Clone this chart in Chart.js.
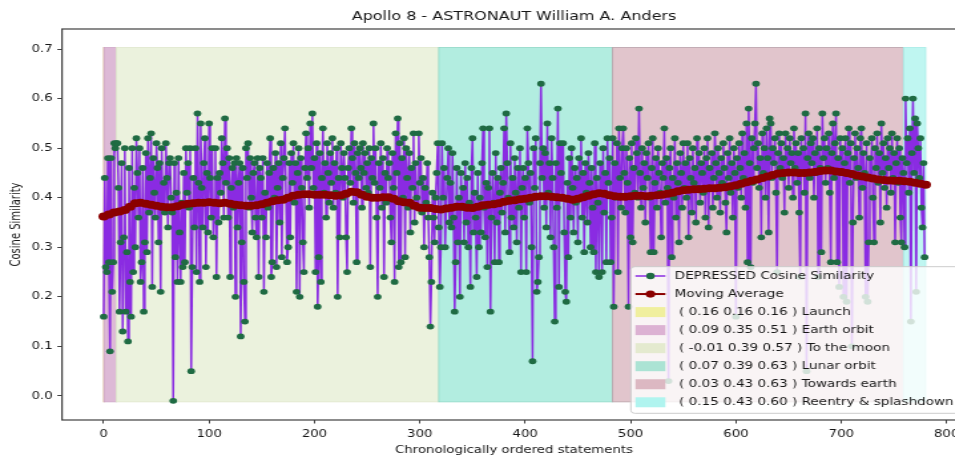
<!DOCTYPE html>
<html>
<head>
<meta charset="utf-8">
<script src="https://cdn.jsdelivr.net/npm/chart.js@4.4.0/dist/chart.umd.min.js"></script>
<style>
html, body { margin: 0; padding: 0; overflow: hidden; background: #fff; }
/* the reference figure is stretched sideways, so the chart is drawn narrow and widened */
#wrap { width: 773px; height: 457px; transform: scaleX(1.33); transform-origin: 0 0; }
</style>
</head>
<body>
<div id="wrap"><canvas id="chart" width="773" height="457"></canvas></div>
<script>
// cosine similarity per statement, split by mission phase
const launch = [0.16];
const earthOrbit = [0.44, 0.26, 0.25, 0.48, 0.27, 0.09, 0.48, 0.21, 0.27, 0.51, 0.50, 0.51];
const toMoon = [
  0.51, 0.42, 0.17, 0.31, 0.47, 0.13, 0.32, 0.50, 0.17, 0.29,
  0.11, 0.46, 0.23, 0.16, 0.50, 0.25, 0.42, 0.30, 0.52, 0.45,
  0.36, 0.50, 0.23, 0.27, 0.46, 0.17, 0.31, 0.49, 0.29, 0.52,
  0.37, 0.44, 0.53, 0.22, 0.48, 0.41, 0.36, 0.51, 0.46, 0.31,
  0.47, 0.21, 0.50, 0.38, 0.43, 0.37, 0.51, 0.44, 0.34, 0.47,
  0.48, 0.40, 0.37, -0.01, 0.47, 0.28, 0.41, 0.23, 0.48, 0.33,
  0.23, 0.39, 0.26, 0.45, 0.27, 0.50, 0.41, 0.47, 0.38, 0.50,
  0.05, 0.26, 0.44, 0.34, 0.50, 0.25, 0.57, 0.43, 0.23, 0.55,
  0.42, 0.34, 0.47, 0.52, 0.26, 0.45, 0.33, 0.55, 0.44, 0.36,
  0.50, 0.32, 0.39, 0.50, 0.24, 0.44, 0.35, 0.45, 0.41, 0.52,
  0.47, 0.36, 0.56, 0.43, 0.50, 0.36, 0.48, 0.24, 0.42, 0.46,
  0.38, 0.47, 0.20, 0.48, 0.34, 0.43, 0.47, 0.12, 0.31, 0.46,
  0.23, 0.15, 0.50, 0.44, 0.51, 0.38, 0.48, 0.40, 0.33, 0.45,
  0.47, 0.36, 0.32, 0.48, 0.24, 0.46, 0.44, 0.36, 0.48, 0.21,
  0.41, 0.32, 0.47, 0.38, 0.45, 0.52, 0.24, 0.27, 0.46, 0.40,
  0.49, 0.26, 0.42, 0.47, 0.35, 0.51, 0.28, 0.44, 0.48, 0.54,
  0.40, 0.27, 0.30, 0.47, 0.32, 0.49, 0.43, 0.51, 0.39, 0.47,
  0.21, 0.45, 0.50, 0.20, 0.48, 0.42, 0.31, 0.25, 0.46, 0.53,
  0.44, 0.50, 0.38, 0.55, 0.46, 0.57, 0.42, 0.48, 0.25, 0.51,
  0.18, 0.28, 0.49, 0.23, 0.44, 0.54, 0.41, 0.47, 0.36, 0.51,
  0.45, 0.39, 0.49, 0.43, 0.52, 0.38, 0.47, 0.41, 0.50, 0.20,
  0.44, 0.32, 0.51, 0.46, 0.40, 0.49, 0.44, 0.32, 0.25, 0.46,
  0.50, 0.43, 0.54, 0.48, 0.39, 0.51, 0.45, 0.27, 0.49, 0.44,
  0.50, 0.46, 0.38, 0.51, 0.45, 0.49, 0.42, 0.47, 0.41, 0.50,
  0.26, 0.48, 0.44, 0.55, 0.43, 0.50, 0.36, 0.20, 0.47, 0.42,
  0.51, 0.38, 0.48, 0.24, 0.45, 0.39, 0.50, 0.44, 0.47, 0.36,
  0.31, 0.49, 0.42, 0.23, 0.53, 0.45, 0.56, 0.26, 0.51, 0.27,
  0.48, 0.40, 0.52, 0.28, 0.50, 0.44, 0.38, 0.49, 0.33, 0.46,
  0.42, 0.53, 0.35, 0.47, 0.40, 0.38, 0.53, 0.43, 0.48, 0.37,
  0.44, 0.30, 0.42, 0.39, 0.47, 0.36, 0.28, 0.14, 0.23, 0.41,
  0.36, 0.31, 0.40, 0.45, 0.51, 0.34
];
const lunarOrbit = [
  0.22, 0.30, 0.51, 0.40, 0.46, 0.30, 0.38, 0.44, 0.50, 0.35,
  0.43, 0.34, 0.49, 0.36, 0.17, 0.27, 0.46, 0.31, 0.40, 0.20,
  0.45, 0.38, 0.42, 0.31, 0.47, 0.35, 0.44, 0.30, 0.39, 0.22,
  0.46, 0.52, 0.33, 0.41, 0.36, 0.24, 0.45, 0.30, 0.40, 0.33,
  0.47, 0.54, 0.38, 0.32, 0.43, 0.26, 0.42, 0.54, 0.17, 0.36,
  0.45, 0.39, 0.27, 0.49, 0.35, 0.44, 0.27, 0.41, 0.46, 0.37,
  0.43, 0.54, 0.33, 0.57, 0.47, 0.40, 0.29, 0.51, 0.36, 0.44,
  0.34, 0.48, 0.41, 0.31, 0.46, 0.38, 0.50, 0.25, 0.42, 0.46,
  0.36, 0.44, 0.25, 0.54, 0.47, 0.39, 0.45, 0.30, 0.07, 0.50,
  0.42, 0.52, 0.21, 0.23, 0.28, 0.47, 0.63, 0.44, 0.50, 0.38,
  0.49, 0.34, 0.55, 0.41, 0.47, 0.32, 0.52, 0.44, 0.30, 0.15,
  0.47, 0.38, 0.58, 0.22, 0.51, 0.45, 0.40, 0.51, 0.33, 0.21,
  0.19, 0.43, 0.28, 0.48, 0.36, 0.50, 0.42, 0.33, 0.46, 0.39,
  0.44, 0.31, 0.48, 0.40, 0.52, 0.36, 0.45, 0.29, 0.47, 0.41,
  0.35, 0.49, 0.43, 0.30, 0.46, 0.38, 0.29, 0.51, 0.25, 0.44,
  0.39, 0.24, 0.47, 0.41, 0.25, 0.50, 0.37, 0.45, 0.27, 0.52,
  0.43, 0.48, 0.27, 0.36
];
const towardsEarth = [
  0.52, 0.18, 0.47, 0.40, 0.51, 0.25, 0.54, 0.44, 0.38, 0.50,
  0.54, 0.45, 0.37, 0.50, 0.43, 0.18, 0.48, 0.32, 0.51, 0.31,
  0.46, 0.41, 0.52, 0.49, 0.40, 0.58, 0.45, 0.38, 0.50, 0.42,
  0.47, 0.35, 0.49, 0.44, 0.51, 0.40, 0.29, 0.46, 0.52, 0.29,
  0.43, 0.48, 0.38, 0.50, 0.45, 0.41, 0.32, 0.47, 0.44, 0.54,
  0.39, 0.48, 0.42, 0.03, 0.46, 0.50, 0.28, 0.44, 0.40, 0.52,
  0.36, 0.47, 0.43, 0.31, 0.49, 0.45, 0.38, 0.51, 0.42, 0.47,
  0.40, 0.51, 0.32, 0.48, 0.44, 0.37, 0.50, 0.43, 0.46, 0.35,
  0.52, 0.42, 0.49, 0.39, 0.47, 0.45, 0.41, 0.50, 0.36, 0.48,
  0.52, 0.34, 0.46, 0.42, 0.49, 0.38, 0.44, 0.53, 0.47, 0.40,
  0.50, 0.45, 0.37, 0.48, 0.43, 0.51, 0.46, 0.39, 0.33, 0.49,
  0.44, 0.52, 0.41, 0.47, 0.36, 0.50, 0.45, 0.16, 0.48, 0.42,
  0.51, 0.46, 0.40, 0.53, 0.44, 0.49, 0.38, 0.55, 0.27, 0.58,
  0.47, 0.26, 0.52, 0.43, 0.50, 0.55, 0.63, 0.46, 0.51, 0.42,
  0.48, 0.32, 0.53, 0.45, 0.50, 0.40, 0.54, 0.48, 0.33, 0.56,
  0.55, 0.44, 0.50, 0.47, 0.52, 0.41, 0.25, 0.49, 0.53, 0.46,
  0.51, 0.44, 0.48, 0.37, 0.53, 0.45, 0.50, 0.42, 0.52, 0.47,
  0.49, 0.40, 0.54, 0.46, 0.51, 0.43, 0.49, 0.37, 0.24, 0.52,
  0.45, 0.50, 0.41, 0.57, 0.05, 0.48, 0.53, 0.44, 0.51, 0.47,
  0.52, 0.40, 0.49, 0.45, 0.54, 0.24, 0.50, 0.46, 0.29, 0.57,
  0.48, 0.52, 0.43, 0.50, 0.46, 0.53, 0.41, 0.27, 0.49, 0.55,
  0.44, 0.51, 0.57, 0.27, 0.48, 0.22, 0.52, 0.45, 0.50, 0.20,
  0.47, 0.52, 0.19, 0.49, 0.54, 0.43, 0.51, 0.10, 0.35, 0.48,
  0.53, 0.44, 0.50, 0.46, 0.36, 0.52, 0.54, 0.42, 0.49, 0.45,
  0.20, 0.51, 0.19, 0.31, 0.48, 0.44, 0.52, 0.40, 0.31, 0.50,
  0.46, 0.53, 0.43, 0.49, 0.35, 0.55, 0.45, 0.51, 0.42, 0.48,
  0.38, 0.52, 0.46, 0.50, 0.41, 0.53, 0.44, 0.49, 0.31, 0.47,
  0.52, 0.43, 0.50, 0.36, 0.31, 0.48, 0.45
];
const reentry = [
  0.30, 0.60, 0.47, 0.52, 0.41, 0.54, 0.15, 0.49, 0.60, 0.45,
  0.56, 0.21, 0.55, 0.50, 0.44, 0.52, 0.38, 0.34, 0.47, 0.28
];

// moving average, read every 5th statement
const maStep = 5;
const movingAverage = [
  0.362, 0.366, 0.370, 0.372, 0.375, 0.382, 0.389, 0.390, 0.388, 0.386,
  0.384, 0.382, 0.381, 0.381, 0.383, 0.386, 0.388, 0.389, 0.390, 0.390,
  0.391, 0.390, 0.389, 0.390, 0.388, 0.386, 0.385, 0.384, 0.384, 0.385,
  0.387, 0.390, 0.393, 0.395, 0.396, 0.400, 0.404, 0.406, 0.407, 0.407,
  0.406, 0.406, 0.406, 0.405, 0.404, 0.405, 0.408, 0.412, 0.411, 0.406,
  0.402, 0.400, 0.400, 0.401, 0.401, 0.398, 0.393, 0.391, 0.390, 0.384,
  0.380, 0.379, 0.379, 0.377, 0.376, 0.378, 0.380, 0.382, 0.382, 0.380,
  0.379, 0.382, 0.385, 0.386, 0.387, 0.389, 0.392, 0.394, 0.395, 0.397,
  0.398, 0.400, 0.402, 0.403, 0.403, 0.402, 0.401, 0.400, 0.398, 0.396,
  0.398, 0.401, 0.404, 0.407, 0.409, 0.408, 0.405, 0.403, 0.402, 0.402,
  0.403, 0.404, 0.404, 0.403, 0.404, 0.405, 0.406, 0.408, 0.410, 0.413,
  0.415, 0.416, 0.417, 0.417, 0.418, 0.419, 0.419, 0.420, 0.421, 0.423,
  0.425, 0.428, 0.431, 0.434, 0.437, 0.440, 0.443, 0.446, 0.449, 0.450,
  0.451, 0.451, 0.450, 0.450, 0.451, 0.452, 0.454, 0.455, 0.455, 0.453,
  0.452, 0.450, 0.448, 0.445, 0.443, 0.441, 0.439, 0.437, 0.436, 0.435,
  0.434, 0.434, 0.433, 0.432, 0.430, 0.428, 0.426
];

// mission phases: shaded statement ranges and their (min mean max)
const phaseNames = ['Launch', 'Earth orbit', 'To the moon', 'Lunar orbit', 'Towards earth', 'Reentry & splashdown'];
const phaseStats = ['( 0.16 0.16 0.16 )', '( 0.09 0.35 0.51 )', '( -0.01 0.39 0.57 )',
                    '( 0.07 0.39 0.63 )', '( 0.03 0.43 0.63 )', '( 0.15 0.43 0.60 )'];
const phaseStart = [0, 0.4, 12, 318, 483, 759];
const phaseEnd = [0.4, 12, 318, 483, 759, 780];
const spanLow = -0.012;
const spanHigh = 0.703;

const xTicks = [0, 100, 200, 300, 400, 500, 600, 700, 800];
const yTicks = [0.0, 0.1, 0.2, 0.3, 0.4, 0.5, 0.6, 0.7];

const titleText = 'Apollo 8 - ASTRONAUT William A. Anders';

const phaseColors = ['#e6dc96', '#ddb9d6', '#ebf2dd', '#b2ede0', '#e1c5cc', '#bff6f1'];
const phaseEdges = ['#d9b98a', '#cfa6c8', '#dfe6cc', '#8fd8c6', '#b9a0a8', '#a6ece6'];
const swatchColors = ['#f0ef9e', '#dcb2d3', '#e4eacf', '#abe3d4', '#dcb8c2', '#b0f4ef'];

const lineColor = '#8a2be2';
const markerColor = '#1f6b43';
const maColor = '#8b0000';
const textColor = '#161616';

Chart.defaults.font.family = '"DejaVu Sans", sans-serif';
Chart.defaults.color = textColor;

const allValues = [...launch, ...earthOrbit, ...toMoon, ...lunarOrbit, ...towardsEarth, ...reentry];
const cosPoints = allValues.map((v, i) => ({ x: i, y: v }));
const maPoints = movingAverage.map((v, i) => ({ x: i * maStep, y: v }));

const phaseSpans = {
  id: 'phaseSpans',
  beforeDatasetsDraw(chart) {
    const { ctx, scales: { x, y } } = chart;
    const top = y.getPixelForValue(spanHigh);
    const bottom = y.getPixelForValue(spanLow);
    ctx.save();
    for (let i = 0; i < phaseNames.length; i++) {
      const x0 = x.getPixelForValue(phaseStart[i]);
      const x1 = x.getPixelForValue(phaseEnd[i]);
      ctx.fillStyle = phaseColors[i];
      ctx.fillRect(x0, top, x1 - x0, bottom - top);
      ctx.strokeStyle = phaseEdges[i];
      ctx.lineWidth = 0.8;
      ctx.strokeRect(x0, top, x1 - x0, bottom - top);
    }
    ctx.restore();
  }
};

const frameAndLegend = {
  id: 'frameAndLegend',
  afterDraw(chart) {
    const { ctx, chartArea: a } = chart;
    ctx.save();
    ctx.strokeStyle = '#404040';
    ctx.lineWidth = 1.2;
    ctx.strokeRect(a.left, a.top, a.right - a.left, a.bottom - a.top);

    // title centred over the axes, like matplotlib's set_title
    ctx.fillStyle = textColor;
    ctx.font = '12px "DejaVu Sans"';
    ctx.textAlign = 'center';
    ctx.textBaseline = 'middle';
    ctx.fillText(titleText, (a.left + a.right) / 2, 17);

    // legend box in the lower right corner of the axes
    const w = 247, h = 146.6;
    const bx = a.right - 5 - w, by = a.bottom - 6.7 - h;
    ctx.beginPath();
    ctx.roundRect(bx, by, w, h, 3);
    ctx.fillStyle = 'rgba(255,255,255,0.8)';
    ctx.fill();
    ctx.strokeStyle = '#cccccc';
    ctx.lineWidth = 1;
    ctx.stroke();

    const hx0 = bx + 3.5, hx1 = bx + 26, hxm = (hx0 + hx1) / 2;
    const tx = bx + 33;
    const rowY = k => by + 9.3 + k * 18.04;
    ctx.font = '10.2px "DejaVu Sans"';
    ctx.textBaseline = 'middle';
    ctx.textAlign = 'left';

    // line handles
    const handles = [
      { label: 'DEPRESSED Cosine Similarity', color: lineColor, width: 1.5, dot: markerColor, r: 3.2 },
      { label: 'Moving Average', color: maColor, width: 2, dot: maColor, r: 3.6 }
    ];
    handles.forEach((hd, k) => {
      const yy = rowY(k);
      ctx.strokeStyle = hd.color;
      ctx.lineWidth = hd.width;
      ctx.beginPath();
      ctx.moveTo(hx0, yy);
      ctx.lineTo(hx1, yy);
      ctx.stroke();
      ctx.fillStyle = hd.dot;
      ctx.beginPath();
      ctx.arc(hxm, yy, hd.r, 0, Math.PI * 2);
      ctx.fill();
      ctx.fillStyle = textColor;
      ctx.fillText(hd.label, tx, yy + 0.5);
    });

    // patch handles
    for (let i = 0; i < phaseNames.length; i++) {
      const yy = rowY(i + 2);
      ctx.fillStyle = swatchColors[i];
      ctx.fillRect(hx0, yy - 5, hx1 - hx0, 10);
      ctx.fillStyle = textColor;
      ctx.fillText(' ' + phaseStats[i] + ' ' + phaseNames[i], tx, yy + 0.5);
    }
    ctx.restore();
  }
};

new Chart(document.getElementById('chart'), {
  type: 'line',
  data: {
    datasets: [
      {
        label: 'Moving Average',
        data: maPoints,
        borderColor: maColor,
        backgroundColor: maColor,
        borderWidth: 2.5,
        pointRadius: 4,
        pointBorderWidth: 0,
        pointBackgroundColor: maColor,
        tension: 0
      },
      {
        label: 'DEPRESSED Cosine Similarity',
        data: cosPoints,
        borderColor: lineColor,
        backgroundColor: markerColor,
        borderWidth: 1.5,
        pointRadius: 2.9,
        pointBorderWidth: 0,
        pointBackgroundColor: markerColor,
        tension: 0
      }
    ]
  },
  options: {
    responsive: false,
    animation: false,
    events: [],
    layout: { padding: { left: 0, right: 46.7, top: 29, bottom: 0 } },
    plugins: {
      legend: { display: false },
      tooltip: { enabled: false },
      title: { display: false }
    },
    scales: {
      x: {
        type: 'linear',
        min: -39.6,
        max: 818.3,
        afterBuildTicks: s => { s.ticks = xTicks.map(v => ({ value: v })); },
        afterFit: s => { s.height = 37; },
        ticks: { font: { size: 10 }, color: textColor, padding: 4.5, maxRotation: 0, autoSkip: false,
                 callback: v => String(v) },
        grid: { display: true, drawOnChartArea: false, drawTicks: true, tickLength: 3.5, color: '#404040' },
        border: { display: false },
        title: { display: true, text: 'Chronologically ordered statements', font: { size: 10 },
                 color: textColor, padding: { top: 0, bottom: 1 } }
      },
      y: {
        type: 'linear',
        min: -0.0486,
        max: 0.7405,
        afterBuildTicks: s => { s.ticks = yTicks.map(v => ({ value: v })); },
        afterFit: s => { s.width = 46.6; },
        ticks: { font: { size: 10 }, color: textColor, padding: 3.5, autoSkip: false,
                 callback: v => v.toFixed(1) },
        grid: { display: true, drawOnChartArea: false, drawTicks: true, tickLength: 3.5, color: '#404040' },
        border: { display: false },
        title: { display: true, text: 'Cosine Similarity', font: { size: 10 },
                 color: textColor, padding: { top: 6.8, bottom: 0 } }
      }
    }
  },
  plugins: [phaseSpans, frameAndLegend]
});
</script>
</body>
</html>
